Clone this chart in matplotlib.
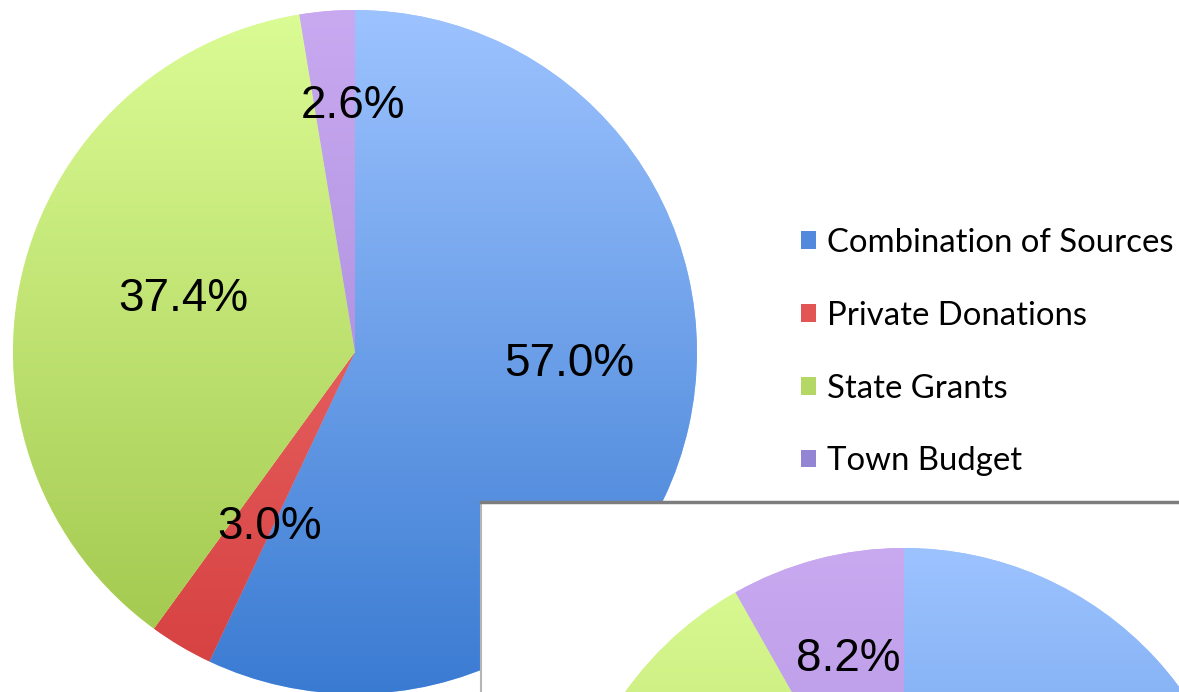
import numpy as np
import matplotlib
matplotlib.use("Agg")
import matplotlib.pyplot as plt
from matplotlib.colors import LinearSegmentedColormap
from matplotlib.patches import Patch

# canvas in pixels (figure is drawn 1:1 in pixel data coordinates)
W, H = 1179, 692

categories = ["Combination of Sources", "Private Donations", "State Grants", "Town Budget"]
shares_main = [57.0, 3.0, 37.4, 2.6]
shares_inset = [52.5, 6.6, 32.7, 8.2]   # second chart, only the Town Budget label shows
labels_main = ["57.0%", "3.0%", "37.4%", "2.6%"]
labels_inset = ["", "", "", "8.2%"]

legend_colors = ["#5289dc", "#e25555", "#b4d765", "#9485d4"]
top_colors = ["#9dc3ff", "#f27a7a", "#dbfc95", "#c9a9f0"]
bottom_colors = ["#3a7bd2", "#d63f3f", "#9fc54a", "#9a80d4"]

# where the percentage texts sit, pixel coords from top-left
label_pos_main = [(569, 364), (270, 527), (183, 299), (353, 106)]
label_pos_inset = [None, None, None, (848, 659)]


def shaded_pie(ax, values, cx, cy, r, zorder):
    wedges, _ = ax.pie(values, center=(cx, cy), radius=r, startangle=90,
                       counterclock=False, frame=True,
                       wedgeprops=dict(linewidth=0, zorder=zorder))
    grad = np.linspace(0, 1, 256).reshape(-1, 1)
    for w, c0, c1 in zip(wedges, top_colors, bottom_colors):
        cmap = LinearSegmentedColormap.from_list("shade", [c1, c0])
        im = ax.imshow(grad, cmap=cmap, origin="lower", aspect="auto",
                       extent=(cx - r, cx + r, cy - r, cy + r),
                       interpolation="bilinear", zorder=zorder + 0.5)
        im.set_clip_path(w)
        w.set_facecolor(c0)
    return wedges


fig = plt.figure(figsize=(W / 100, H / 100), dpi=100)
fig.patch.set_facecolor("white")

# --- main pie ---------------------------------------------------------------
ax = fig.add_axes([0, 0, 1, 1])
shaded_pie(ax, shares_main, 355, H - 352, 342, zorder=1)
ax.set_xlim(0, W)
ax.set_ylim(0, H)
ax.set_aspect("auto")
ax.axis("off")

for txt, pos in zip(labels_main, label_pos_main):
    ax.text(pos[0], H - pos[1], txt, ha="center", va="center",
            fontsize=33, family="Liberation Sans", color="black", zorder=5)

handles = [Patch(facecolor=c, edgecolor="none") for c in legend_colors]
ax.legend(handles, categories, loc="upper left",
          bbox_to_anchor=(801 / W, 1 - 228 / H), bbox_transform=fig.transFigure,
          frameon=False, prop={"family": "Lato", "size": 23.7},
          handlelength=0.45, handleheight=0.45, handletextpad=0.35,
          labelspacing=1.3, borderpad=0, borderaxespad=0)

# --- second chart, partly visible in the lower right ---------------------------
bx, by = 481, 502
pad = 60
ax2 = fig.add_axes([bx / W, -pad / H, (W + pad - bx) / W, (H - by + pad) / H])
ax2.set_facecolor("white")
shaded_pie(ax2, shares_inset, 904, H - 890, 342, zorder=1)
ax2.set_xlim(bx, W + pad)
ax2.set_ylim(-pad, H - by)
ax2.set_aspect("auto")
ax2.set_xticks([])
ax2.set_yticks([])
ax2.spines["top"].set_color("#7d7d7d")
ax2.spines["top"].set_linewidth(2.5)
ax2.spines["left"].set_color("#b5b5b5")
ax2.spines["left"].set_linewidth(1.5)

for txt, pos in zip(labels_inset, label_pos_inset):
    if pos is None:
        continue
    ax2.text(pos[0], H - pos[1], txt, ha="center", va="center",
             fontsize=33, family="Liberation Sans", color="black", zorder=5)

fig.savefig("out.png", dpi=100)
